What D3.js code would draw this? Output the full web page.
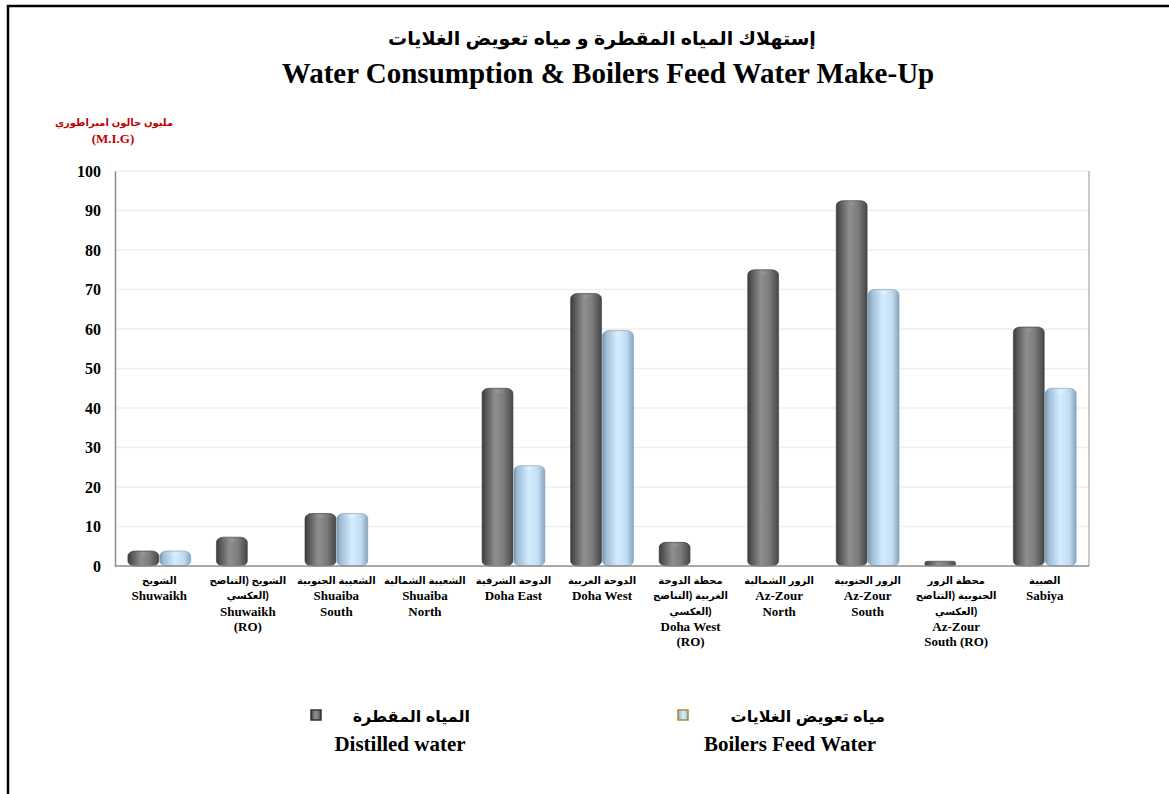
<!DOCTYPE html>
<html>
<head>
<meta charset="utf-8">
<script src="https://cdn.jsdelivr.net/npm/d3@7"></script>
<style>
  html, body { margin: 0; padding: 0; background: #fff; }
  svg { display: block; }
</style>
</head>
<body>
<svg id="chart" width="1169" height="794"></svg>
<script>
// ---------- DATA ----------
const categoriesAr = [
  ["الشويخ"],
  ["الشويخ (التناضح", "العكسي)"],
  ["الشعيبة الجنوبية"],
  ["الشعيبة الشمالية"],
  ["الدوحة الشرقية"],
  ["الدوحة الغربية"],
  ["محطة الدوحة", "الغربية (التناضح", "العكسي)"],
  ["الزور الشمالية"],
  ["الزور الجنوبية"],
  ["محطة الزور", "الجنوبية (التناضح", "العكسي)"],
  ["الصبية"]
];
const categoriesEn = [
  ["Shuwaikh"],
  ["Shuwaikh", "(RO)"],
  ["Shuaiba", "South"],
  ["Shuaiba", "North"],
  ["Doha East"],
  ["Doha West"],
  ["Doha West", "(RO)"],
  ["Az-Zour", "North"],
  ["Az-Zour", "South"],
  ["Az-Zour", "South (RO)"],
  ["Sabiya"]
];
const distilledWater = [3.8, 7.3, 13.3, 0, 45, 69, 6, 75, 92.5, 1.2, 60.5];
const boilersFeedWater = [3.8, 0, 13.3, 0, 25.4, 59.6, 0, 0, 70, 0, 45];
const yTicks = [0, 10, 20, 30, 40, 50, 60, 70, 80, 90, 100];
const seriesNamesAr = ["المياه المقطرة", "مياه تعويض الغلايات"];
const seriesNamesEn = ["Distilled water", "Boilers Feed Water"];
const titleAr = "إستهلاك المياه المقطرة و مياه تعويض الغلايات";
const titleEn = "Water Consumption & Boilers Feed Water Make-Up";
const unitAr = "مليون جالون امبراطوري";
const unitEn = "(M.I.G)";

// ---------- LAYOUT ----------
const svg = d3.select("#chart");
const W = 1169, H = 794;
const plot = { left: 115, right: 1089, top: 171, bottom: 566 };
const serif = "'Liberation Serif', 'Times New Roman', serif";
const arabicFont = "'Liberation Sans', 'DejaVu Sans', Arial, sans-serif";

// outer border
svg.append("rect").attr("x", 8).attr("y", 6).attr("width", W + 10).attr("height", H + 10)
  .attr("fill", "#fff").attr("stroke", "#000").attr("stroke-width", 2.5);

// gradients
const defs = svg.append("defs");
function grad(id, stops) {
  const g = defs.append("linearGradient").attr("id", id)
    .attr("x1", "0%").attr("x2", "100%").attr("y1", "0%").attr("y2", "0%");
  stops.forEach(s => g.append("stop").attr("offset", s[0]).attr("stop-color", s[1]));
}
grad("gDark", [["0%", "#3c3c3c"], ["12%", "#555"], ["42%", "#8f8f8f"], ["70%", "#7c7c7c"], ["100%", "#474747"]]);
grad("gBlue", [["0%", "#7896ae"], ["12%", "#9fbdd6"], ["48%", "#d4ebff"], ["78%", "#c2ddf3"], ["100%", "#86a5bf"]]);
grad("gDarkCap", [["0%", "#555"], ["50%", "#9a9a9a"], ["100%", "#5a5a5a"]]);
grad("gBlueCap", [["0%", "#9cb9d1"], ["50%", "#e6f4ff"], ["100%", "#a6c3da"]]);

// scales
const y = d3.scaleLinear().domain([0, 100]).range([plot.bottom, plot.top]);
const x0 = d3.scaleBand().domain(d3.range(categoriesEn.length))
  .range([plot.left, plot.right]).paddingInner(0.28).paddingOuter(0.14);
const x1 = d3.scaleBand().domain([0, 1]).range([0, x0.bandwidth()]);

// gridlines
svg.append("g").selectAll("line").data(yTicks.filter(d => d > 0)).join("line")
  .attr("x1", plot.left).attr("x2", plot.right)
  .attr("y1", d => y(d)).attr("y2", d => y(d))
  .attr("stroke", "#efefef").attr("stroke-width", 1.3);

// plot frame
svg.append("line").attr("x1", plot.right).attr("x2", plot.right).attr("y1", plot.top).attr("y2", plot.bottom)
  .attr("stroke", "#a6a6a6").attr("stroke-width", 1.2);

// y axis
const yAxis = d3.axisLeft(y).tickValues(yTicks).tickSize(0).tickPadding(14);
const yg = svg.append("g").attr("transform", `translate(${plot.left},0)`).call(yAxis);
yg.select(".domain").attr("stroke", "#8c8c8c").attr("stroke-width", 1.5);
yg.selectAll("text").attr("font-family", serif).attr("font-weight", "bold")
  .attr("font-size", 16).attr("fill", "#000");

// bars
const series = [
  { values: distilledWater, fill: "url(#gDark)", cap: "url(#gDarkCap)", stroke: "#3a3a3a" },
  { values: boilersFeedWater, fill: "url(#gBlue)", cap: "url(#gBlueCap)", stroke: "#7d9ab2" }
];
const barsG = svg.append("g");
series.forEach((s, si) => {
  const data = s.values.map((v, i) => ({ v, i })).filter(d => d.v > 0);
  const g = barsG.append("g");
  g.selectAll("rect.bar").data(data).join("rect").attr("class", "bar")
    .attr("x", d => x0(d.i) + x1(si) + 0.5)
    .attr("width", x1.bandwidth() - 1)
    .attr("y", d => y(d.v))
    .attr("height", d => y(0) - y(d.v))
    .attr("rx", d => Math.min(7, (y(0) - y(d.v)) / 2))
    .attr("ry", d => Math.min(5, (y(0) - y(d.v)) / 2))
    .attr("fill", s.fill)
    .attr("stroke", s.stroke).attr("stroke-width", 0.6);
  g.selectAll("ellipse.cap").data(data.filter(d => y(0) - y(d.v) > 10)).join("ellipse").attr("class", "cap")
    .attr("cx", d => x0(d.i) + x1(si) + x1.bandwidth() / 2)
    .attr("cy", d => y(d.v) + 3.2)
    .attr("rx", x1.bandwidth() / 2 - 3)
    .attr("ry", 1.6)
    .attr("fill", s.cap).attr("opacity", 0.8);
});

// x axis line
svg.append("line").attr("x1", plot.left).attr("x2", plot.right).attr("y1", plot.bottom).attr("y2", plot.bottom)
  .attr("stroke", "#8c8c8c").attr("stroke-width", 1.5);

// category labels
const catG = svg.append("g");
categoriesEn.forEach((en, i) => {
  const cx = x0(i) + x0.bandwidth() / 2;
  const ar = categoriesAr[i];
  const t = catG.append("text").attr("text-anchor", "middle");
  let yy = 584;
  ar.forEach(line => {
    t.append("tspan").attr("x", cx).attr("y", yy).attr("direction", "rtl")
      .attr("font-family", arabicFont).attr("font-weight", "bold").attr("font-size", 10)
      .text(line);
    yy += 15.3;
  });
  yy += 1;
  en.forEach(line => {
    t.append("tspan").attr("x", cx).attr("y", yy)
      .attr("font-family", serif).attr("font-weight", "bold").attr("font-size", 13)
      .text(line);
    yy += 15.5;
  });
});

// titles
svg.append("text").attr("x", 602).attr("y", 45).attr("text-anchor", "middle").attr("direction", "rtl")
  .attr("font-family", arabicFont).attr("font-weight", "bold").attr("font-size", 19).text(titleAr);
svg.append("text").attr("x", 608).attr("y", 83).attr("text-anchor", "middle")
  .attr("font-family", serif).attr("font-weight", "bold").attr("font-size", 29).text(titleEn);

// unit label
svg.append("text").attr("x", 114).attr("y", 126).attr("text-anchor", "middle").attr("direction", "rtl")
  .attr("font-family", arabicFont).attr("font-weight", "bold").attr("font-size", 10)
  .attr("fill", "#c00000").text(unitAr);
svg.append("text").attr("x", 113).attr("y", 143).attr("text-anchor", "middle")
  .attr("font-family", serif).attr("font-weight", "bold").attr("font-size", 13)
  .attr("fill", "#c00000").text(unitEn);

// legend
const legend = [
  { mx: 311, arEnd: 470, enCx: 400, fill: "url(#gDark)", stroke: "#333" },
  { mx: 678, arEnd: 885, enCx: 790, fill: "url(#gBlue)", stroke: "#b08a3a" }
];
legend.forEach((l, i) => {
  svg.append("rect").attr("x", l.mx).attr("y", 710).attr("width", 10).attr("height", 10)
    .attr("fill", l.fill).attr("stroke", l.stroke).attr("stroke-width", 1.5);
  svg.append("text").attr("x", l.arEnd).attr("y", 722).attr("text-anchor", "start")
    .attr("direction", "rtl")
    .attr("font-family", arabicFont).attr("font-weight", "bold").attr("font-size", 16)
    .text(seriesNamesAr[i]);
  svg.append("text").attr("x", l.enCx).attr("y", 751).attr("text-anchor", "middle")
    .attr("font-family", serif).attr("font-weight", "bold").attr("font-size", 21)
    .text(seriesNamesEn[i]);
});
</script>
</body>
</html>
